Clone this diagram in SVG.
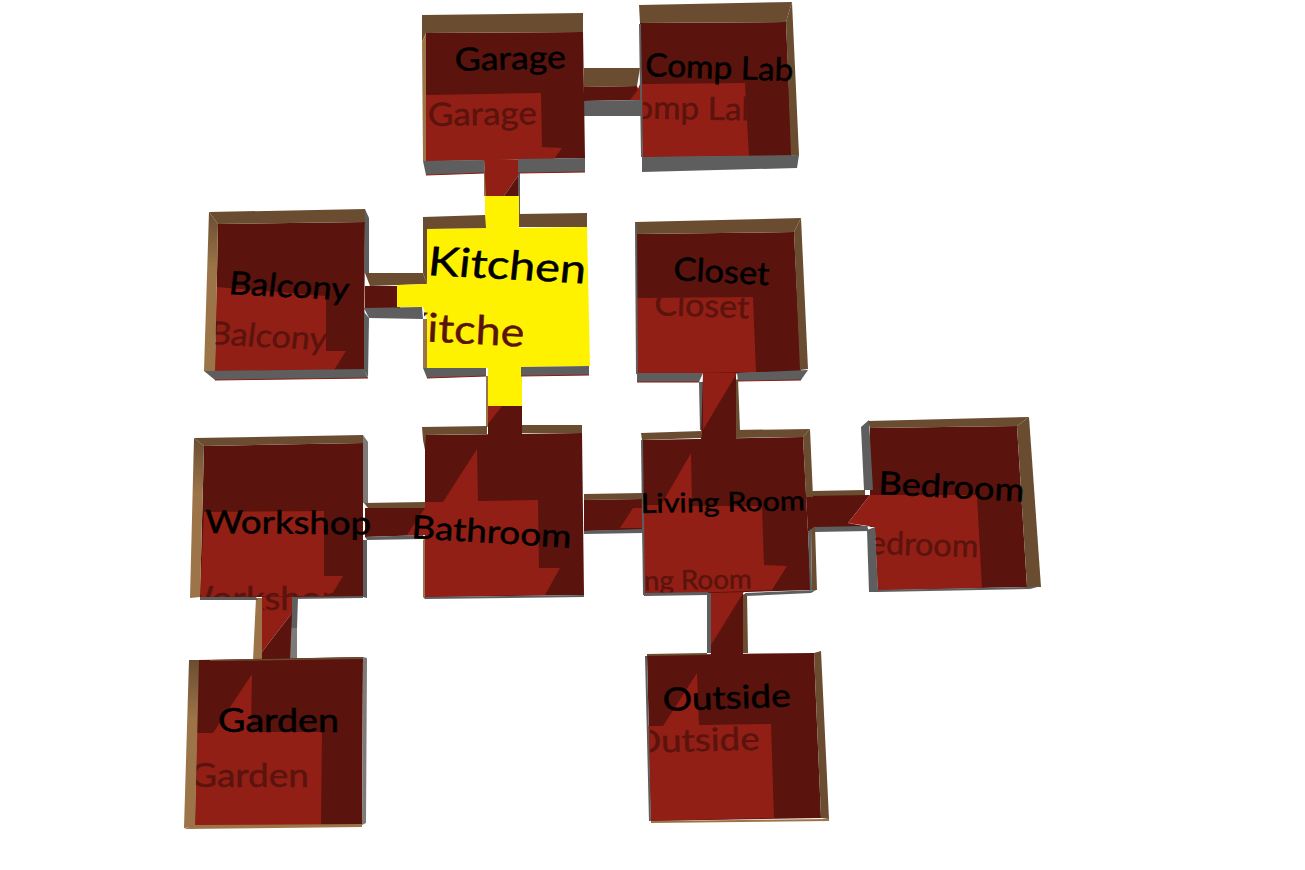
<svg xmlns="http://www.w3.org/2000/svg" width="1305" height="870" viewBox="0 0 1305 870">
<style>
.l{fill:#911f15}.d{fill:#5a130d}.b{fill:#6a4d31}.g{fill:#5e5e5e}.s{fill:#7d7a78}.t{fill:#9c7448}.y{fill:#fff200}
.e{fill:none;stroke:#8b1a10;stroke-width:1}
text{font-family:"Lato","Noto Sans",sans-serif;font-size:32px}
.k{fill:#000;stroke:#000;stroke-width:.5}.h{fill:#5a130d;stroke:#5a130d;stroke-width:.4}
</style>
<defs>
<linearGradient id="w" x1="0" y1="0" x2="0" y2="1"><stop offset="0" stop-color="#6a4d31"/><stop offset="0.35" stop-color="#9c7448"/></linearGradient>
<clipPath id="cComp"><path d="M643 84H745L749 157H643Z"/></clipPath>
<clipPath id="cBal"><path d="M215 300H326V372H215Z"/></clipPath>
<clipPath id="cKit"><path d="M424 305H523V360H424Z"/></clipPath>
<clipPath id="cClo"><path d="M637 298H753V340H637Z"/></clipPath>
<clipPath id="cBed"><path d="M872 520H978V570H872Z"/></clipPath>
<clipPath id="cLiv"><path d="M644 560H762V595H644Z"/></clipPath>
<clipPath id="cWor"><path d="M200 570H345V597H292V612H263V597H200Z"/></clipPath>
<clipPath id="cGar"><path d="M196 750H320V800H196Z"/></clipPath>
<clipPath id="cOut"><path d="M650 720H771V770H650Z"/></clipPath>
</defs>

<g id="connectors">
<g id="garage-complab">
<path class="b" d="M584 68L640 68L637 86L584 87Z"/>
<path class="d" d="M584 87L637 86L642 100L584 101Z"/>
<path class="l" d="M630 100L637 91L640 84L643 100Z"/>
<path class="g" d="M584 101L641 100L641 116L584 116Z"/>
</g>
<g id="garage-kitchen">
<path class="t" d="M484 172H486V196H484Z"/>
<path class="g" d="M518 172H520V214H518Z"/>
<path class="l" d="M484 160H518V176L504 196H486Z"/>
<path class="d" d="M518 176V196H504Z"/>
</g>
<g id="balcony-kitchen">
<path class="b" d="M365 273L423 273L427 284L370 286Z"/>
<path class="d" d="M365 286H400V308H365Z"/>
<path class="g" d="M364 308L422 307L423 319L369 318Z"/>
</g>
<g id="kitchen-bathroom">
<path class="t" d="M486 376H488V427H486Z"/>
<path class="d" d="M488 406H522V436H488Z"/>
<path class="l" d="M488 406H502L488 424Z"/>
</g>
<g id="closet-living">
<path class="g" d="M699 382L703 382L703 430L700 430Z"/>
<path class="b" d="M733 381L738 379L740 430L735 430Z"/>
<path class="d" d="M703 373H736V440H701Z"/>
<path class="l" d="M703 373H737L703 430Z"/>
</g>
<g id="workshop-bathroom">
<path class="b" d="M364 503L425 502L425 508L368 508Z"/>
<path class="d" d="M365 508L427 508L427 535L365 537Z"/>
<path class="l" d="M407 535L427 505V535Z"/>
<path class="g" d="M365 537L423 535L423 539L367 540Z"/>
</g>
<g id="bathroom-living">
<path class="b" d="M584 494L642 493L642 499L584 500Z"/>
<path class="d" d="M584 500L642 499L642 530L584 531Z"/>
<path class="l" d="M620 528L633 508H644V528Z"/>
<path class="g" d="M584 531L643 529L643 533L584 534Z"/>
</g>
<g id="living-bedroom">
<path class="b" d="M806 497L813 491L865 490L865 497Z"/>
<path class="d" d="M806 496L870 495L848 523L870 527L815 527L808 532Z"/>
<path class="g" d="M815 527L867 526L869 531L815 532Z"/>
</g>
<g id="living-outside">
<path class="g" d="M707 592L711 592L711 653L707 653Z"/>
<path class="b" d="M742 595L747 593L748 653L743 653Z"/>
<path class="d" d="M711 593H743V656H711Z"/>
<path class="l" d="M711 590H745L711 645Z"/>
</g>
<g id="workshop-garden">
<path class="t" d="M256 598L262 598L262 660L253 660Z"/>
<path class="g" d="M291 597L298 597L297 628L291 628Z"/>
<path class="s" d="M291 628L297 628L297 659L289 659Z"/>
<path class="l" d="M262 597H292V613L262 652Z"/>
<path class="d" d="M292 613L290 660H262V652Z"/>
</g>
</g>

<g id="garage">
<path class="d" d="M426 33L583 32L585 158L426 161Z"/>
<path class="l" d="M426 95L541 93L542 147L562 148L554 159L426 161Z"/>
<text class="h" transform="translate(428 126) rotate(-1)" textLength="109" lengthAdjust="spacingAndGlyphs">Garage</text>
<path class="b" d="M422 15L583 13L583 32L426 33L422 42Z"/>
<path class="t" d="M422 42L426 33V161H423Z"/>
<path class="g" d="M423 161L484 160L485 173L426 175Z"/>
<path class="g" d="M518 159L585 158L585 172L518 173Z"/>
<path class="e" d="M426 175L484 173M518 173L585 172"/>
<text class="k" transform="translate(455 71) rotate(-1.5)" textLength="111" lengthAdjust="spacingAndGlyphs">Garage</text>
</g>

<g id="comp-lab">
<path class="d" d="M640 23L786 22L792 156L643 157Z"/>
<path class="l" d="M640 84L745 83L749 156L643 157Z"/>
<g clip-path="url(#cComp)"><text class="h" transform="translate(612 118) rotate(1)" textLength="148" lengthAdjust="spacingAndGlyphs">Comp Lab</text></g>
<path class="b" d="M639 5L792 2L786 22L640 23Z"/>
<path class="b" d="M792 2L799 155L791 155L786 22Z"/>
<path class="g" d="M639 24H641L643 157H641Z"/>
<path class="g" d="M642 157L799 155L797 168L642 172Z"/>
<text class="k" transform="translate(645 76) rotate(2)" textLength="148" lengthAdjust="spacingAndGlyphs">Comp Lab</text>
</g>

<g id="balcony">
<path class="d" d="M218 224L365 222L364 370L215 372Z"/>
<path class="l" d="M217 287L326 296L326 351L346 351L334 370L215 372Z"/>
<g clip-path="url(#cBal)"><text class="h" transform="translate(208 344) rotate(3) skewX(-4)" textLength="118" lengthAdjust="spacingAndGlyphs">Balcony</text></g>
<path class="b" d="M209 212L365 209L365 222L218 224Z"/>
<path fill="url(#w)" d="M209 212L218 224L215 372L204 371Z"/>
<path class="g" d="M365 209L369 218L369 273L364 273Z"/>
<path class="g" d="M364 312L369 318L368 377L364 370Z"/>
<path class="g" d="M204 371L364 369L368 378L215 380Z"/>
<path class="e" d="M215 380L368 378"/>
<text class="k" transform="translate(228 294) rotate(3) skewX(-4)" textLength="120" lengthAdjust="spacingAndGlyphs">Balcony</text>
</g>

<g id="kitchen">
<path class="y" d="M485 196H519V228L587 227L590 366L522 367V406H488V368H427V319L423 307H397V285L427 284V229L485 228Z"/>
<g clip-path="url(#cKit)"><text class="h" transform="translate(397 340) rotate(3)" style="font-size:40px" textLength="152" lengthAdjust="spacingAndGlyphs">Kitchen</text></g>
<path class="b" d="M423 217L485 215L486 228L427 229L423 240Z"/>
<path class="b" d="M423 229L427 229L427 284L423 273Z"/>
<path class="b" d="M519 214L587 213L587 227L519 227Z"/>
<path class="t" d="M423 319H427V368H423Z"/>
<path class="g" d="M423 368L486 368L486 376L427 378Z"/>
<path class="g" d="M521 367L589 366L589 375L521 376Z"/>
<path class="e" d="M427 378L486 376M521 376L589 375"/>
<text class="k" transform="translate(427 275) rotate(3) skewX(-3)" style="font-size:40px" textLength="158" lengthAdjust="spacingAndGlyphs">Kitchen</text>
</g>

<g id="closet">
<path class="d" d="M636 234L794 232L801 372L737 373L703 373L637 374Z"/>
<path class="l" d="M637 298L753 297L756 372L637 374Z"/>
<g clip-path="url(#cClo)"><text class="h" transform="translate(654 315) rotate(2)" textLength="95" lengthAdjust="spacingAndGlyphs">Closet</text></g>
<path class="b" d="M635 222L801 218L794 232L636 234Z"/>
<path class="b" d="M801 218L808 369L800 370L794 232Z"/>
<path class="g" d="M635 224H637L638 374H636Z"/>
<path class="g" d="M637 373L703 373L699 382L637 382Z"/>
<path class="g" d="M737 373L808 370L801 380L738 381Z"/>
<path class="e" d="M637 382L699 382M738 381L801 380"/>
<text class="k" transform="translate(673 280) rotate(3)" textLength="96" lengthAdjust="spacingAndGlyphs">Closet</text>
</g>

<g id="workshop">
<path class="d" d="M204 446L363 443L363 597L200 597Z"/>
<path class="l" d="M204 512L324 511L324 576L343 576L331 596L200 597Z"/>
<g clip-path="url(#cWor)"><text class="h" transform="translate(176 610)" textLength="166" lengthAdjust="spacingAndGlyphs">Workshop</text></g>
<path class="b" d="M194 438L363 435L363 443L204 446Z"/>
<path fill="url(#w)" d="M194 438L204 446L200 597L190 598Z"/>
<path class="s" d="M363 435L368 442L368 503L363 503Z"/>
<path class="g" d="M363 540L367 540L367 598L363 597Z"/>
<path class="g" d="M200 597L256 597L258 600L200 600Z"/>
<path class="g" d="M292 597L363 596V598L292 599Z"/>
<text class="k" transform="translate(205 533) rotate(0.5)" textLength="166" lengthAdjust="spacingAndGlyphs">Workshop</text>
</g>

<g id="bathroom">
<path class="d" d="M425 435L582 433L584 595L425 597Z"/>
<path class="l" d="M425 502L443 502L477 449L478 501L538 500L539 568L560 568L545 595L425 597Z"/>
<path class="b" d="M422 427L487 426L487 434L426 435L425 450L423 440Z"/>
<path class="b" d="M522 425L582 425L582 433L522 433Z"/>
<path class="t" d="M423 540L425 538V597L423 597Z"/>
<path class="g" d="M423 597L584 595L584 597L425 599Z"/>
<text class="k" transform="translate(411 538) rotate(3.5)" textLength="160" lengthAdjust="spacingAndGlyphs">Bathroom</text>
</g>

<g id="living-room">
<path class="d" d="M642 440L803 437L811 590L644 595Z"/>
<path class="l" d="M642 505L661 505L691 453L692 506L762 506L764 565L787 566L772 590L644 595Z"/>
<g clip-path="url(#cLiv)"><text class="h" transform="translate(602 591) rotate(-1)" style="font-size:27px" textLength="150" lengthAdjust="spacingAndGlyphs">Living Room</text></g>
<path class="b" d="M641 433L702 431L701 438L642 440Z"/>
<path class="b" d="M736 430L810 429L803 437L736 438Z"/>
<path class="b" d="M803 437L810 429L813 497L806 497Z"/>
<path class="b" d="M811 529L815 527L817 590L812 590Z"/>
<path class="g" d="M808 532L811 529L812 590L810 590Z"/>
<path class="g" d="M641 440H643L645 595H643Z"/>
<path class="g" d="M644 593L708 592V595L644 596Z"/>
<path class="g" d="M745 593L816 590L811 593L746 596Z"/>
<text class="k" transform="translate(641 513) rotate(-1)" style="font-size:27px" textLength="164" lengthAdjust="spacingAndGlyphs">Living Room</text>
</g>

<g id="bedroom">
<path class="d" d="M870 428L1017 426L1027 587L878 590L875 527L870 527Z"/>
<path class="l" d="M870 495L977 495L982 588L878 590L875 527L848 523Z"/>
<g clip-path="url(#cBed)"><text class="h" transform="translate(848 553) rotate(2)" textLength="130" lengthAdjust="spacingAndGlyphs">Bedroom</text></g>
<path class="b" d="M868 421L1029 417L1017 426L870 428Z"/>
<path class="b" d="M1029 417L1041 587L1027 587L1017 426Z"/>
<path class="g" d="M861 427L869 420L873 490L864 490Z"/>
<path class="g" d="M867 530L875 527L878 590L878 592L869 592Z"/>
<path class="g" d="M869 592L878 590L1027 587L1041 586L1030 589L878 592Z"/>
<text class="k" transform="translate(878 494) rotate(3)" textLength="146" lengthAdjust="spacingAndGlyphs">Bedroom</text>
</g>

<g id="garden">
<path class="d" d="M198 660L363 657L362 825L195 826Z"/>
<path class="l" d="M197 733L213 733L252 674L251 732L322 732L321 825L195 826Z"/>
<g clip-path="url(#cGar)"><text class="h" transform="translate(190 787)" textLength="119" lengthAdjust="spacingAndGlyphs">Garden</text></g>
<path fill="url(#w)" d="M189 660L199 660L195 827L184 828Z"/>
<path class="s" d="M363 657L367 658L366 823L362 825Z"/>
<path class="b" d="M210 660L363 657V659L210 661Z"/>
<path class="t" d="M195 825L362 824L362 827L184 829Z"/>
<text class="k" transform="translate(218 732)" textLength="121" lengthAdjust="spacingAndGlyphs">Garden</text>
</g>

<g id="outside">
<path class="d" d="M647 655L814 653L821 818L651 821Z"/>
<path class="l" d="M648 726L663 726L697 673L699 725L771 724L774 818L651 821Z"/>
<g clip-path="url(#cOut)"><text class="h" transform="translate(632 753) rotate(-1.5)" textLength="128" lengthAdjust="spacingAndGlyphs">Outside</text></g>
<path class="b" d="M814 653L821 651L829 819L821 818Z"/>
<path class="g" d="M645 656L647 656L651 821L649 821Z"/>
<path class="b" d="M647 654L707 653V655L647 656Z"/>
<path class="t" d="M651 821L829 819L829 821L651 823Z"/>
<text class="k" transform="translate(663 711) rotate(-2)" textLength="128" lengthAdjust="spacingAndGlyphs">Outside</text>
</g>
</svg>
